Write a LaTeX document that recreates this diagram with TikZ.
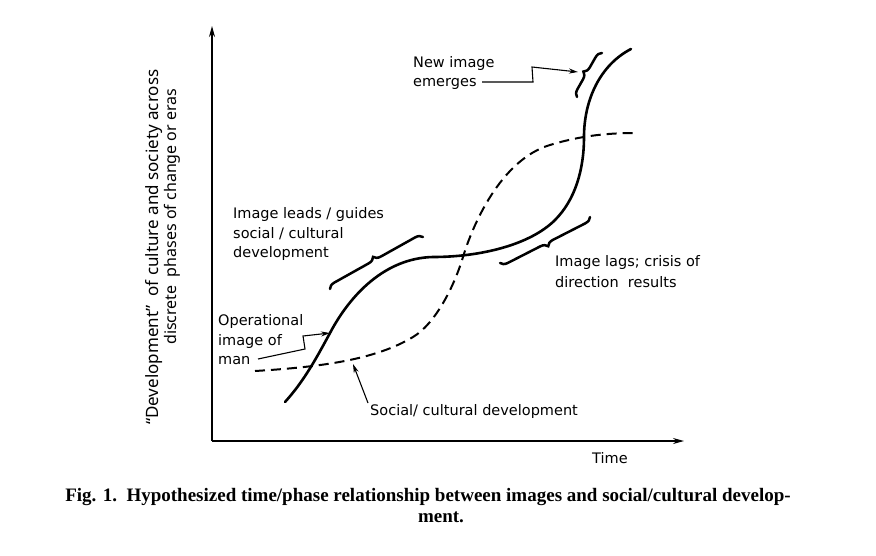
\documentclass[tikz,border=0pt]{standalone}
\usepackage{fontspec}
\newfontfamily\labfont{DejaVu Sans}
\newfontfamily\yfont{Noto Sans}
\newfontfamily\capfont{Liberation Serif}
\usetikzlibrary{arrows.meta,decorations.pathreplacing}
\begin{document}
\begin{tikzpicture}[x=1pt,y=-1pt,
  lab/.style={font=\labfont\fontsize{14.5}{17}\selectfont, anchor=base west, inner sep=0},
  ylab/.style={font=\yfont\fontsize{16}{19}\selectfont, anchor=base west, inner sep=0, rotate=90},
  caplab/.style={font=\capfont\bfseries\fontsize{19}{23}\selectfont, anchor=base, inner sep=0},
  axisline/.style={line width=1.4pt, -{Stealth[length=11pt,width=6pt]}},
  imagecurve/.style={line width=2.6pt, line cap=round},
  socialcurve/.style={line width=2pt, dash pattern=on 10pt off 6pt},
  bracemark/.style={line width=2.5pt, line cap=round, decorate, decoration={brace, amplitude=7pt}},
  bracemarkm/.style={line width=2.5pt, line cap=round, decorate, decoration={brace, amplitude=7pt, mirror}},
  pointer/.style={line width=1.1pt, -{Stealth[length=9pt,width=5pt]}}
]
\useasboundingbox (0,0) rectangle (876,555);

% axes
\coordinate (origin) at (212,441);
\coordinate (ytop) at (212,26);
\coordinate (xend) at (684,441);
\draw[axisline] (origin) -- (ytop);
\draw[axisline] (origin) -- (xend);

% social/cultural development (dashed)
\coordinate (s0) at (255,371);
\coordinate (s1) at (413,337);
\coordinate (s2) at (463,257);
\coordinate (s3) at (550,145);
\coordinate (s4) at (637,133);
\draw[socialcurve] (s0) .. controls (320,367) and (375,360) .. (s1)
  .. controls (435,324) and (454,287) .. (s2)
  .. controls (472,227) and (500,160) .. (s3)
  .. controls (583,135) and (610,133) .. (s4);

% image curve (solid)
\coordinate (i0) at (285,402);
\coordinate (i1) at (330,333);
\coordinate (i2) at (433,257);
\coordinate (i3) at (555,220);
\coordinate (i4) at (584,137);
\coordinate (i5) at (631,49);
\draw[imagecurve] (i0) .. controls (305,380) and (318,355) .. (i1)
  .. controls (350,295) and (385,258) .. (i2)
  .. controls (480,257) and (530,245) .. (i3)
  .. controls (575,200) and (584,170) .. (i4)
  .. controls (584,100) and (600,65) .. (i5);

% braces
\coordinate (b1s) at (330,289);
\coordinate (b1e) at (423,237);
\draw[bracemark] (b1s) -- (b1e);
\coordinate (b2s) at (500,263);
\coordinate (b2e) at (590,217);
\draw[bracemarkm] (b2s) -- (b2e);
\coordinate (b3s) at (577,97);
\coordinate (b3e) at (602,53);
\draw[bracemark] (b3s) -- (b3e);

% labels
\node[lab] (ni1) at (413,67) {New image};
\node[lab] (ni2) at (413,86) {emerges};
\node[lab] (il1) at (233,218) {Image leads / guides};
\node[lab] (il2) at (233,238) {social / cultural};
\node[lab] (il3) at (233,257) {development};
\node[lab] (lg1) at (555,266) {Image lags; crisis of};
\node[lab] (lg2) at (555,287) {direction\ \ results};
\node[lab] (op1) at (218,325) {Operational};
\node[lab] (op2) at (218,345) {image of};
\node[lab] (op3) at (218,364) {man};
\node[lab] (scd) at (370,415) {Social/ cultural development};
\node[lab] (time) at (592,463) {Time};

% pointers
\coordinate (na) at (482,82);
\coordinate (nb) at (533,82);
\coordinate (nc) at (532,67);
\coordinate (nd) at (578,72);
\draw[pointer] (na) -- (nb) -- (nc) -- (nd);
\coordinate (oa) at (258,359);
\coordinate (ob) at (305,349);
\coordinate (oc) at (303,336);
\coordinate (od) at (330,333);
\draw[pointer] (oa) -- (ob) -- (oc) -- (od);
\coordinate (sa) at (368,403);
\coordinate (sb) at (353,364);
\draw[pointer] (sa) -- (sb);

% y label
\node[ylab, font=\yfont\fontsize{17}{20}\selectfont] (yl1) at (158,425) {“Development”\ \ of culture and society across};
\node[ylab] (yl2) at (176,345) {discrete\ \ phases of change or eras};

% caption
\node[caplab] (cap1) at (428,501) {Fig. 1.\ \ Hypothesized time/phase relationship between images and social/cultural develop-};
\node[caplab] (cap2) at (441,522) {ment.};
\end{tikzpicture}
\end{document}
